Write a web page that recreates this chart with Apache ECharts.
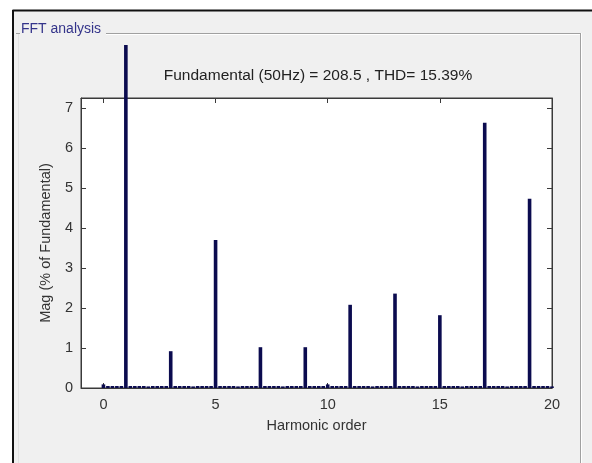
<!DOCTYPE html>
<html>
<head>
<meta charset="utf-8">
<script src="https://cdn.jsdelivr.net/npm/echarts@6/dist/echarts.min.js"></script>
<style>
  html, body { margin: 0; padding: 0; background: #ffffff; }
  #chart { width: 592px; height: 463px; }
</style>
</head>
<body>
<div id="chart"></div>
<script>
// ---- data ----
const titleText = 'Fundamental (50Hz) = 208.5 , THD= 15.39%';
const panelTitle = 'FFT analysis';
const xAxisName = 'Harmonic order';
const yAxisName = 'Mag (% of Fundamental)';

// integer harmonic orders and magnitudes (% of fundamental)
const harmonicOrders = [0, 1, 2, 3, 4, 5, 6, 7, 8, 9, 10, 11, 12, 13, 14, 15, 16, 17, 18, 19, 20];
const harmonicMag    = [0.09, 100, 0.04, 0.92, 0.04, 3.7, 0.04, 1.02, 0.04, 1.02, 0.09, 2.08, 0.04, 2.36, 0.04, 1.82, 0.04, 6.63, 0.04, 4.73, 0.04];

// inter-harmonic bins (0.2 order spacing) – small residual magnitudes
const binOffsets = [0.2, 0.4, 0.6, 0.8];
const binMag = [
  0.05,0.05,0.05,0.05, 0.05,0.05,0.05,0.05, 0.05,0.05,0.05,0.05, 0.05,0.05,0.05,0.05,
  0.05,0.05,0.05,0.05, 0.05,0.05,0.05,0.05, 0.05,0.05,0.05,0.05, 0.05,0.05,0.05,0.05,
  0.05,0.05,0.05,0.05, 0.05,0.05,0.05,0.05, 0.05,0.05,0.05,0.05, 0.05,0.05,0.05,0.05,
  0.05,0.05,0.05,0.05, 0.05,0.05,0.05,0.05, 0.05,0.05,0.05,0.05, 0.05,0.05,0.05,0.05,
  0.05,0.05,0.05,0.05, 0.05,0.05,0.05,0.05, 0.05,0.05,0.05,0.05, 0.05,0.05,0.05,0.05
];

const xTicks = [0, 5, 10, 15, 20];
const yTicks = [0, 1, 2, 3, 4, 5, 6, 7];
const xMin = -1, xMax = 20;
const yMin = 0, yMax = 7.25;

// ---- build series data ----
const barData = [];
harmonicOrders.forEach((h, i) => barData.push([h, harmonicMag[i]]));
let k = 0;
for (let h = 0; h < 20; h++) {
  binOffsets.forEach(o => { barData.push([+(h + o).toFixed(1), binMag[k++]]); });
}
barData.sort((a, b) => a[0] - b[0]);

const FONT = '"Liberation Sans", Arial, sans-serif';
const PANEL = '#f0f0f0';
const AXC = '#3a3a3a';
const BAR = '#0b0b4f';

const chart = echarts.init(document.getElementById('chart'), null, { renderer: 'canvas' });

const tickStyle = { inside: true, length: 5, lineStyle: { color: AXC, width: 1 } };
const lineStyle = { show: true, onZero: false, lineStyle: { color: AXC, width: 1 } };

chart.setOption({
  backgroundColor: PANEL,
  animation: false,
  title: {
    text: titleText,
    left: 313, top: 63, textAlign: 'center',
    textStyle: { fontFamily: FONT, fontSize: 15.5, fontWeight: 'normal', color: '#222' }
  },
  grid: {
    left: 81, top: 98, right: 40, bottom: 75,
    show: true, backgroundColor: '#ffffff', borderColor: AXC, borderWidth: 1
  },
  xAxis: [{
    type: 'value', min: xMin, max: xMax, position: 'bottom',
    name: xAxisName, nameLocation: 'middle', nameGap: 30,
    nameTextStyle: { fontFamily: FONT, fontSize: 14.5, color: '#333' },
    axisLine: lineStyle,
    axisTick: Object.assign({ customValues: xTicks }, tickStyle),
    axisLabel: { customValues: xTicks, margin: 9, fontFamily: FONT, fontSize: 14.5, color: '#333' },
    splitLine: { show: false }
  }, {
    type: 'value', min: xMin, max: xMax, position: 'top',
    axisLine: lineStyle,
    axisTick: Object.assign({ customValues: xTicks }, tickStyle),
    axisLabel: { show: false },
    splitLine: { show: false }
  }],
  yAxis: [{
    type: 'value', min: yMin, max: yMax, position: 'left',
    name: yAxisName, nameLocation: 'middle', nameGap: 28, nameRotate: 90,
    nameTextStyle: { fontFamily: FONT, fontSize: 14.5, color: '#333' },
    axisLine: lineStyle,
    axisTick: Object.assign({ customValues: yTicks }, tickStyle),
    axisLabel: { customValues: yTicks, margin: 8, fontFamily: FONT, fontSize: 14.5, color: '#333' },
    splitLine: { show: false }
  }, {
    type: 'value', min: yMin, max: yMax, position: 'right',
    axisLine: lineStyle,
    axisTick: Object.assign({ customValues: yTicks }, tickStyle),
    axisLabel: { show: false },
    splitLine: { show: false }
  }],
  series: [{
    type: 'bar',
    xAxisIndex: 0, yAxisIndex: 0,
    data: barData,
    barWidth: 3.6,
    clip: false,
    itemStyle: { color: BAR },
    z: 2
  }],
  graphic: [
    // panel region above the group box (covers the overflow of the fundamental bar)
    { type: 'rect', z: 100, shape: { x: 0, y: 0, width: 592, height: 45 }, style: { fill: PANEL } },
    // white page strip above the panel
    { type: 'rect', z: 101, shape: { x: 0, y: 0, width: 592, height: 10 }, style: { fill: '#ffffff' } },
    { type: 'rect', z: 101, shape: { x: 0, y: 0, width: 12, height: 463 }, style: { fill: '#ffffff' } },
    // outer dark border
    { type: 'line', z: 102, shape: { x1: 12.5, y1: 10.5, x2: 592, y2: 10.5 }, style: { stroke: '#111', lineWidth: 2 } },
    { type: 'line', z: 102, shape: { x1: 13, y1: 10, x2: 13, y2: 463 }, style: { stroke: '#111', lineWidth: 2 } },
    // group box etched lines
    { type: 'line', z: 102, shape: { x1: 16, y1: 33.5, x2: 20, y2: 33.5 }, style: { stroke: '#a0a0a0', lineWidth: 1 } },
    { type: 'line', z: 102, shape: { x1: 106, y1: 33.5, x2: 581, y2: 33.5 }, style: { stroke: '#a0a0a0', lineWidth: 1 } },
    { type: 'line', z: 102, shape: { x1: 106, y1: 34.5, x2: 581, y2: 34.5 }, style: { stroke: '#ffffff', lineWidth: 1 } },
    { type: 'line', z: 102, shape: { x1: 580.5, y1: 33, x2: 580.5, y2: 463 }, style: { stroke: '#a0a0a0', lineWidth: 1 } },
    { type: 'line', z: 102, shape: { x1: 581.5, y1: 33, x2: 581.5, y2: 463 }, style: { stroke: '#ffffff', lineWidth: 1 } },
    { type: 'line', z: 102, shape: { x1: 18.5, y1: 34, x2: 18.5, y2: 463 }, style: { stroke: '#e2e2e2', lineWidth: 1 } },
    // group box title
    { type: 'text', z: 103, left: 21, top: 22,
      style: { text: panelTitle, fill: '#34348a', font: '14px ' + FONT } }
  ]
});
</script>
</body>
</html>
